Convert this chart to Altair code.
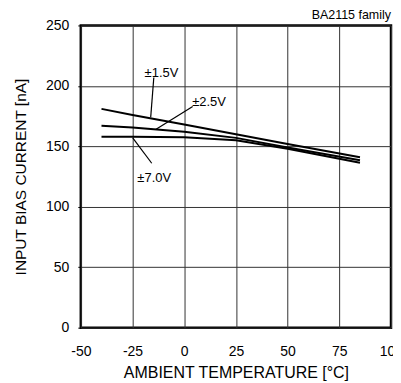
import altair as alt
import pandas as pd

# ---- data ----
temps = [-40, -25, 0, 25, 50, 85]
i_15 = [181, 176, 168, 160, 152, 141]
i_25 = [167, 165.5, 162, 157, 149, 138.5]
i_70 = [158, 158, 157.5, 155, 148, 136.5]
series_names = ["±1.5V", "±2.5V", "±7.0V"]

label_text = ["±1.5V", "±2.5V", "±7.0V"]
label_x = [-11, 12, -14.5]
label_y = [211, 187, 124]
lead_x1 = [-14.7, 4.1, -24.9]
lead_y1 = [207, 183, 157]
lead_x2 = [-16.2, -13.8, -15.7]
lead_y2 = [174, 164, 136]

x_ticks = [-50, -25, 0, 25, 50, 75, 100]
y_ticks = [0, 50, 100, 150, 200, 250]

rows = []
for name, vals in zip(series_names, [i_15, i_25, i_70]):
    for t, v in zip(temps, vals):
        rows.append({"series": name, "temp": t, "ib": v})
df = pd.DataFrame(rows)
lab = pd.DataFrame({"text": label_text, "x": label_x, "y": label_y})
lead = pd.DataFrame({"x": lead_x1, "y": lead_y1, "x2": lead_x2, "y2": lead_y2})

FONT = "Liberation Sans"
xs = alt.Scale(domain=[-50, 100], nice=False)
ys = alt.Scale(domain=[0, 250], nice=False)

lines = alt.Chart(df).mark_line(color="black", strokeWidth=2).encode(
    x=alt.X("temp:Q", scale=xs,
            axis=alt.Axis(values=x_ticks, title="AMBIENT TEMPERATURE [°C]",
                          ticks=False, labelPadding=17, titlePadding=6,
                          titleFontSize=16, labelFlush=False, labelOverlap=False,
                          labelBound=False,
                          labelExpr="'' + datum.value",
                          domain=False, grid=True)),
    y=alt.Y("ib:Q", scale=ys,
            axis=alt.Axis(values=y_ticks, title="INPUT BIAS CURRENT [nA]",
                          tickSize=3, tickColor="black", labelPadding=9,
                          labelFlush=False, labelOverlap=False,
                          labelExpr="'' + datum.value",
                          titlePadding=17, domain=False, grid=True)),
    detail="series:N",
)

leaders = alt.Chart(lead).mark_rule(color="black", strokeWidth=1.2).encode(
    x=alt.X("x:Q", scale=xs), y=alt.Y("y:Q", scale=ys),
    x2="x2:Q", y2="y2:Q",
)

labels = alt.Chart(lab).mark_text(font=FONT, fontSize=13, color="black",
                                  align="center", baseline="middle").encode(
    x=alt.X("x:Q", scale=xs), y=alt.Y("y:Q", scale=ys), text="text:N",
)

family = alt.Chart(pd.DataFrame({"t": ["BA2115 family"]})).mark_text(
    font=FONT, fontSize=12.5, color="black", align="right", baseline="alphabetic"
).encode(x=alt.value(311), y=alt.value(-6), text="t:N")

chart = alt.layer(lines, leaders, labels, family).properties(
    width=311, height=303,
    background="white",
    autosize=alt.AutoSizeParams(type="none"),
    padding={"left": 73, "top": 17, "right": 2, "bottom": 56},
).configure_view(
    stroke="black", strokeWidth=2.5
).configure_axis(
    labelFont=FONT, titleFont=FONT, labelFontSize=14, titleFontSize=15.5,
    titleFontWeight="normal", labelColor="black", titleColor="black",
    gridColor="#333333", gridWidth=1, gridOpacity=1,
)

chart.save("out.html", embed_options={"renderer": "svg", "actions": False})
